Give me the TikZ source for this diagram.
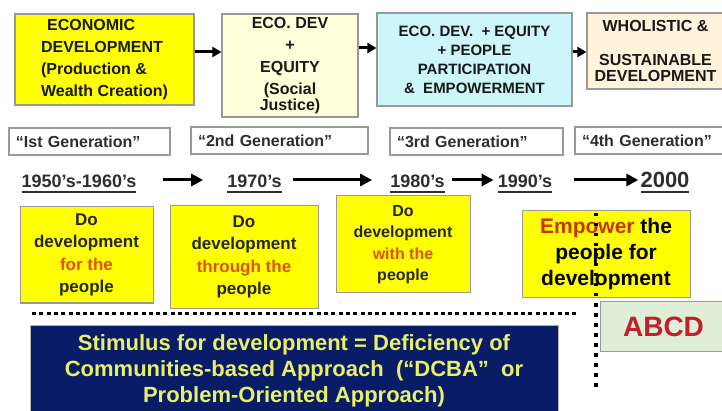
\documentclass[tikz,border=0pt]{standalone}
\usepackage{fontspec}
\setmainfont{Liberation Sans}
\usetikzlibrary{arrows.meta}
\newcommand{\setfs}[2]{\fontsize{#1}{#2}\selectfont}
\newcommand{\ulyr}[1]{\setbox0=\hbox{#1}\rlap{\rule[-4.6pt]{\wd0}{1.6pt}}\box0}

\definecolor{boxgray}{HTML}{999999}
\definecolor{darktext}{HTML}{2E2E2E}
\definecolor{dryellow}{HTML}{FFFF00}
\definecolor{cream}{HTML}{FFFFD9}
\definecolor{lightcyan}{HTML}{CCF6FA}
\definecolor{peach}{HTML}{FFF3DC}
\definecolor{sage}{HTML}{DFEFD7}
\definecolor{abcdred}{HTML}{C21F2A}
\definecolor{navy}{HTML}{081C68}
\definecolor{paleyellow}{HTML}{E8F06A}
\definecolor{accent}{HTML}{E0520A}
\definecolor{emp}{HTML}{CC3300}

\tikzset{
  stagebox/.style={draw=boxgray, line width=1.2pt, align=center, inner sep=0pt,
    text=black!90, font=\bfseries\setfs{16}{22}},
  genbox/.style={draw=boxgray, line width=1.2pt, fill=white, align=left,
    inner xsep=7pt, inner ysep=0pt, minimum height=27pt, text=darktext,
    font=\bfseries\setfs{16}{18}},
  yearlbl/.style={anchor=base, inner sep=0pt, text=darktext, text height=19pt,
    text depth=3pt, font=\bfseries\setfs{18}{20}},
  dobox/.style={draw=boxgray, line width=1pt, fill=dryellow, align=center,
    inner sep=0pt, text=black!85, font=\bfseries\setfs{17}{22.5}},
  flow/.style={line width=3pt, -{Triangle[length=9pt,width=10pt]}},
  yrflow/.style={line width=3pt, -{Triangle[length=12pt,width=12pt]}},
  sepline/.style={line width=3pt, dash pattern=on 4pt off 3.3pt},
}

\begin{document}
\begin{tikzpicture}[x=1pt,y=-1pt]
  \useasboundingbox (0,0) rectangle (722,411);

  % Stages of development
  \node[stagebox, fill=dryellow, align=left, minimum width=179pt, minimum height=91pt] (econ) at (104.5,59.5)
    {\hspace{6pt}ECONOMIC\\DEVELOPMENT\\(Production \&\\Wealth Creation)};
  \node[stagebox, fill=cream, minimum width=136pt, minimum height=103pt] (equity) at (290,65.5)
    {ECO. DEV\\+\\EQUITY\\(Social\\[-6pt]Justice)};
  \node[stagebox, fill=lightcyan, minimum width=195pt, minimum height=93pt,
    font=\bfseries\setfs{15}{19}] (partic) at (474.5,59.5)
    {ECO. DEV.\ \ + EQUITY\\+ PEOPLE\\PARTICIPATION\\\&\ \ EMPOWERMENT};
  \node[stagebox, fill=peach, minimum width=137pt, minimum height=76pt] (whole) at (655.5,51)
    {WHOLISTIC \&\\[12pt]SUSTAINABLE\\[-6pt]DEVELOPMENT};

  \draw[flow] ([yshift=7.5pt]econ.east) -- ([yshift=7.5pt]econ.east -| equity.west);
  \draw[flow] ([yshift=17.5pt]equity.east) -- ([yshift=17.5pt]equity.east -| partic.west);
  \draw[flow] ([yshift=7.5pt]partic.east) -- ([yshift=7.5pt]partic.east -| whole.west);

  % Generations
  \node[genbox, text width=147pt] (gen1) at (89.5,141.5) {“Ist Generation”};
  \node[genbox, text width=163pt] (gen2) at (279.5,140.5) {“2nd Generation”};
  \node[genbox, text width=159pt] (gen3) at (476.5,141.5) {“3rd Generation”};
  \node[genbox, text width=138pt] (gen4) at (651,140.5) {“4th Generation”};

  % Time line
  \node[yearlbl] (yr1) at (79,188) {\ulyr{1950’s-1960’s}};
  \node[yearlbl] (yr2) at (254.5,188) {\ulyr{1970’s}};
  \node[yearlbl] (yr3) at (417.5,188) {\ulyr{1980’s}};
  \node[yearlbl] (yr4) at (525,188) {\ulyr{1990’s}};
  \node[yearlbl, font=\bfseries\setfs{22}{24}] (yr5) at (665,188) {\ulyr{2000}};

  \draw[yrflow, shorten <=26pt, shorten >=24pt] (yr1.east) -- (yr1.east -| yr2.west);
  \draw[yrflow, shorten <=11pt, shorten >=18pt] (yr2.east) -- (yr2.east -| yr3.west);
  \draw[yrflow, shorten <=7pt, shorten >=4pt] (yr3.east) -- (yr3.east -| yr4.west);
  \draw[yrflow, shorten <=22pt, shorten >=2pt] (yr4.east) -- (yr4.east -| yr5.west);

  % Approaches
  \node[dobox, minimum width=133pt, minimum height=96pt] (forp) at (86.5,255)
    {Do\\development\\\textcolor{accent}{for the}\\people};
  \node[dobox, minimum width=148pt, minimum height=102pt] (thrup) at (244,257)
    {Do\\development\\\textcolor{accent}{through the}\\people};
  \node[dobox, minimum width=134pt, minimum height=97pt, font=\bfseries\setfs{16}{21.5}] (withp) at (403,244.5)
    {Do\\development\\\textcolor{accent}{with the}\\people};
  \node[dobox, minimum width=168pt, minimum height=87pt, text=black, font=\bfseries\setfs{21}{26}] (empw) at (606,254.5)
    {\textcolor{emp}{Empower} the\\people for\\development};

  % Old vs new approach
  \node[draw=gray!60, line width=0.8pt, fill=navy, text=paleyellow, align=center, inner sep=0pt,
    minimum width=528pt, minimum height=92pt, font=\bfseries\setfs{22}{26}] (dcba) at (294,371)
    {Stimulus for development = Deficiency of\\Communities-based Approach\ \ (“DCBA”\ \ or\\Problem-Oriented Approach)};
  \node[draw=boxgray, line width=1pt, fill=sage, text=abcdred, inner sep=0pt,
    minimum width=127pt, minimum height=49pt, font=\bfseries\setfs{28}{30}] (abcd) at (663.5,326.5) {ABCD};

  % Dividers
  \draw[sepline] (32,313) -- (577,313);
  \draw[line width=3.5pt, dash pattern=on 3.5pt off 6.5pt] (596,213) -- (596,390);
\end{tikzpicture}
\end{document}
